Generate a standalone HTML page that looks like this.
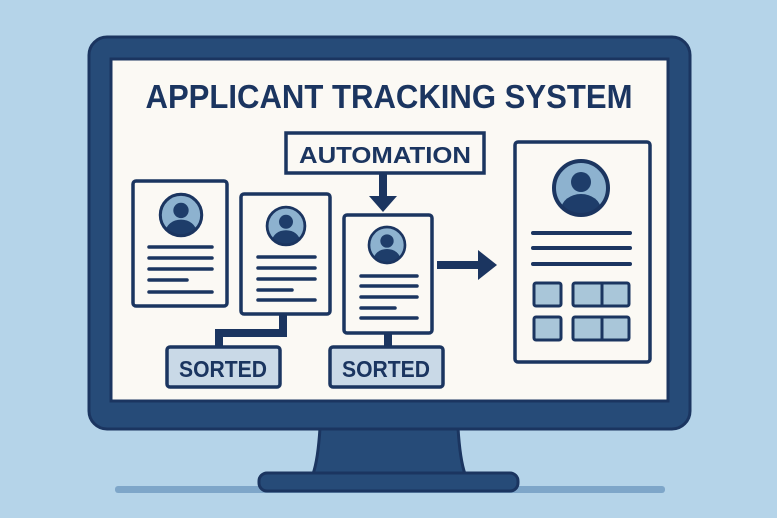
<!DOCTYPE html>
<html><head><meta charset="utf-8"><style>
html,body{margin:0;padding:0;background:#b5d4e9;}
svg{display:block}
text{font-family:"Liberation Sans",sans-serif;font-weight:bold;fill:#1b3560}
</style></head><body>
<svg width="777" height="518" viewBox="0 0 777 518" xmlns="http://www.w3.org/2000/svg">
<defs>
<symbol id="av" viewBox="-30 -30 60 60">
<clipPath id="cc"><circle r="27"/></clipPath>
<circle r="27" fill="#8db2cf"/>
<g clip-path="url(#cc)" fill="#1e3d6a">
<circle cx="0" cy="-6" r="10"/>
<ellipse cx="0" cy="22" rx="20" ry="16"/>
</g>
<circle r="27" fill="none" stroke="#1b3560" stroke-width="4"/>
</symbol>
</defs>
<rect width="777" height="518" fill="#b5d4e9"/>
<rect x="115" y="486" width="550" height="7" rx="3" fill="#7ea6c9"/>
<!-- stand -->
<path d="M320 428 L458 428 Q460 460 465 474 L313 474 Q318 460 320 428Z" fill="#264b78" stroke="#1b3560" stroke-width="3"/>
<rect x="259" y="473" width="259" height="18" rx="8" fill="#264b78" stroke="#1b3560" stroke-width="3"/>
<!-- frame -->
<rect x="89" y="37" width="601" height="392" rx="18" fill="#264b78" stroke="#1b3560" stroke-width="3"/>
<rect x="111" y="59" width="557" height="342" fill="#fbf9f4" stroke="#1b3560" stroke-width="3"/>
<text x="389" y="108" text-anchor="middle" font-size="33" textLength="487" lengthAdjust="spacingAndGlyphs">APPLICANT TRACKING SYSTEM</text>
<!-- automation -->
<rect x="286" y="133" width="198" height="40" fill="#fbf9f4" stroke="#1b3560" stroke-width="3.5"/>
<text x="385" y="163" text-anchor="middle" font-size="23" textLength="172" lengthAdjust="spacingAndGlyphs">AUTOMATION</text>
<rect x="379" y="173" width="8" height="24" fill="#1b3560"/>
<path d="M369 196 L397 196 L383 212Z" fill="#1b3560"/>
<!-- connectors -->
<path d="M283 314 V333 H219 V348" fill="none" stroke="#1b3560" stroke-width="8"/>
<path d="M388 333 V348" fill="none" stroke="#1b3560" stroke-width="8"/>
<!-- card1 -->
<rect x="133" y="181" width="94" height="125" rx="3" fill="#fbf9f4" stroke="#1b3560" stroke-width="3.5"/>
<use href="#av" x="158" y="192" width="46" height="46"/>
<g stroke="#1b3560" stroke-width="3.5" stroke-linecap="round">
<line x1="149" y1="247" x2="212" y2="247"/><line x1="149" y1="258" x2="212" y2="258"/><line x1="149" y1="269" x2="212" y2="269"/><line x1="149" y1="280" x2="187" y2="280"/><line x1="149" y1="292" x2="212" y2="292"/>
</g>
<!-- card2 -->
<rect x="241" y="194" width="89" height="120" rx="3" fill="#fbf9f4" stroke="#1b3560" stroke-width="3.5"/>
<use href="#av" x="265" y="205" width="42" height="42"/>
<g stroke="#1b3560" stroke-width="3.5" stroke-linecap="round">
<line x1="258" y1="257" x2="315" y2="257"/><line x1="258" y1="268" x2="315" y2="268"/><line x1="258" y1="279" x2="315" y2="279"/><line x1="258" y1="290" x2="292" y2="290"/><line x1="258" y1="300" x2="315" y2="300"/>
</g>
<!-- card3 -->
<rect x="344" y="215" width="88" height="118" rx="3" fill="#fbf9f4" stroke="#1b3560" stroke-width="3.5"/>
<use href="#av" x="367" y="225" width="40" height="40"/>
<g stroke="#1b3560" stroke-width="3.5" stroke-linecap="round">
<line x1="361" y1="276" x2="417" y2="276"/><line x1="361" y1="286" x2="417" y2="286"/><line x1="361" y1="297" x2="417" y2="297"/><line x1="361" y1="308" x2="395" y2="308"/><line x1="361" y1="318" x2="417" y2="318"/>
</g>
<!-- right arrow -->
<rect x="437" y="261" width="42" height="8" fill="#1b3560"/>
<path d="M478 250 L497 265 L478 280Z" fill="#1b3560"/>
<!-- sorted -->
<rect x="167" y="347" width="113" height="40" rx="3" fill="#c9d9e7" stroke="#1b3560" stroke-width="3.5"/>
<text x="223" y="377" text-anchor="middle" font-size="23" textLength="88" lengthAdjust="spacingAndGlyphs">SORTED</text>
<rect x="330" y="347" width="113" height="40" rx="3" fill="#c9d9e7" stroke="#1b3560" stroke-width="3.5"/>
<text x="386" y="377" text-anchor="middle" font-size="23" textLength="88" lengthAdjust="spacingAndGlyphs">SORTED</text>
<!-- right panel -->
<rect x="515" y="142" width="135" height="220" rx="3" fill="#fbf9f4" stroke="#1b3560" stroke-width="3.5"/>
<use href="#av" x="551" y="158" width="60" height="60"/>
<g stroke="#1b3560" stroke-width="4" stroke-linecap="round">
<line x1="533" y1="233" x2="630" y2="233"/><line x1="533" y1="248" x2="630" y2="248"/><line x1="533" y1="264" x2="630" y2="264"/>
</g>
<g fill="#a9c6d9" stroke="#1b3560" stroke-width="3">
<rect x="534" y="283" width="27" height="23" rx="2"/>
<rect x="573" y="283" width="56" height="23" rx="2"/>
<rect x="534" y="317" width="27" height="23" rx="2"/>
<rect x="573" y="317" width="56" height="23" rx="2"/>
</g>
<line x1="602" y1="283" x2="602" y2="306" stroke="#1b3560" stroke-width="3"/>
<line x1="602" y1="317" x2="602" y2="340" stroke="#1b3560" stroke-width="3"/>
</svg>
</body></html>
